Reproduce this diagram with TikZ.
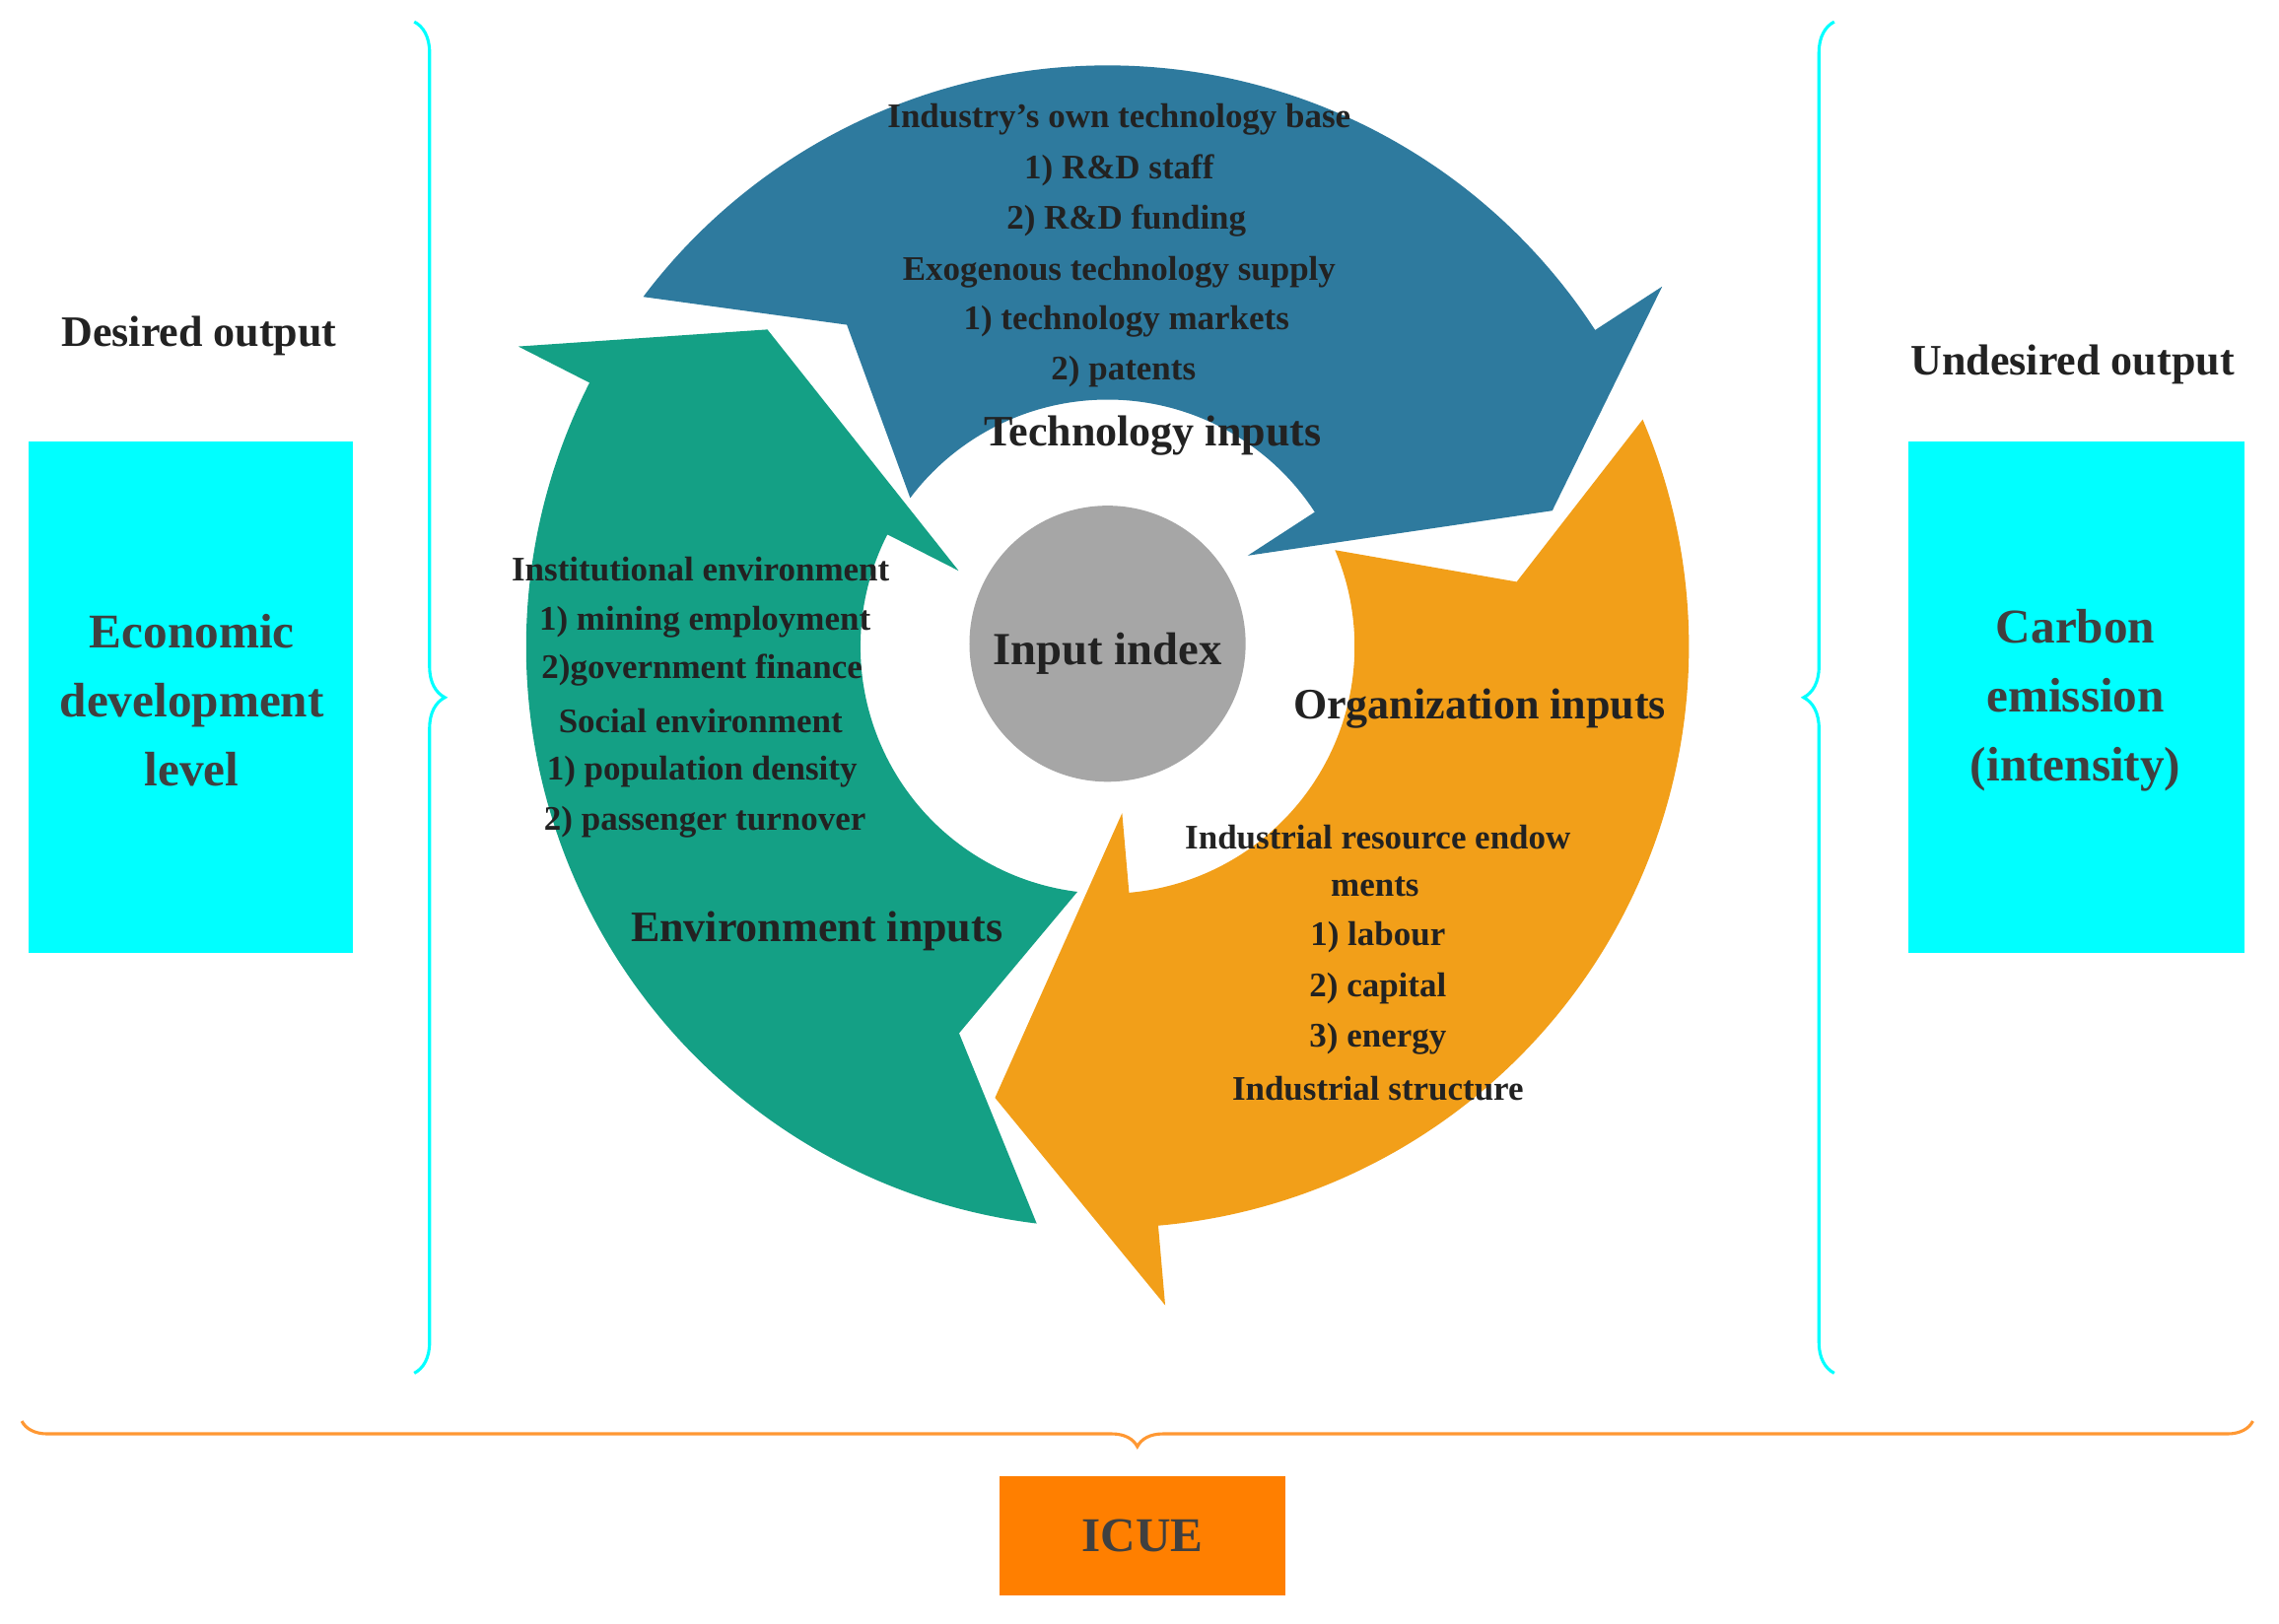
\documentclass[tikz,border=0pt]{standalone}
\usepackage{fontspec}
\setmainfont{Liberation Serif}
\usetikzlibrary{decorations.pathreplacing}
\definecolor{cblue}{HTML}{2E7A9E}
\definecolor{cgreen}{HTML}{14A085}
\definecolor{corange}{HTML}{F29F19}
\definecolor{ccyan}{HTML}{00FFFF}
\definecolor{cbox}{HTML}{FF7F00}
\definecolor{txt}{HTML}{222222}
\begin{document}
\begin{tikzpicture}[x=0.02cm,y=-0.02cm,
  small/.style={font=\fontsize{13.5}{16}\selectfont\bfseries, text=txt, align=center},
  big/.style={font=\fontsize{17}{20}\selectfont\bfseries, text=txt},
  boxtxt/.style={font=\fontsize{19}{27}\selectfont\bfseries, text=black!75, align=center},
  brc/.style={decorate, decoration={brace, amplitude=12pt}, line width=1.2pt}]
\useasboundingbox (0,0) rectangle (1568,1117);
\fill[white] (0,0) rectangle (1568,1117);
\def\rin{170}\def\rout{400}\def\rwi{115}\def\rwo{455}\def\rtip{320}\def\rmid{285}
\newcommand{\ringarrow}[4]{%
  \fill[#4] (#1:\rout) arc[start angle=#1, end angle=#2, radius=\rout]
   -- (#2:\rwo) -- (#3:\rtip) -- (#2:\rwi) -- (#2:\rin)
   arc[start angle=#2, end angle=#1, radius=\rin] -- ({#1-14}:\rmid) -- cycle;}
\begin{scope}[shift={(762,445)}, yscale=-1]
  \ringarrow{143}{33}{17}{cblue}
  \ringarrow{23}{-85}{-104}{corange}
  \ringarrow{263}{153}{137}{cgreen}
\end{scope}
\node[circle, fill=black!35, minimum size=190*0.02cm, inner sep=0pt] (core) at (762,443) {};
\node[font=\fontsize{18}{20}\selectfont\bfseries, text=txt] (ii) at (762,450) {Input index};
% blue text
\node[small] (t1) at (770,82) {Industry's own technology base};
\node[small] (t2) at (770,117) {1) R\&D staff};
\node[small] (t3) at (775,152) {2) R\&D funding};
\node[small] (t4) at (770,187) {Exogenous technology supply};
\node[small] (t5) at (775,221) {1) technology markets};
\node[small] (t6) at (773,256) {2) patents};
\node[big] (tech) at (793,300) {Technology inputs};
% green text
\node[small] (g1) at (482,392) {Institutional environment};
\node[small] (g2) at (485,428) {1) mining employment};
\node[small] (g3) at (483,461) {2)government finance};
\node[small] (g4) at (482,496) {Social environment};
\node[small] (g5) at (483,531) {1) population density};
\node[small] (g6) at (485,566) {2) passenger turnover};
\node[big] (env) at (562,641) {Environment inputs};
% orange text
\node[big] (org) at (1018,488) {Organization inputs};
\node[small] (o1) at (948,576) {Industrial resource endow};
\node[small] (o2) at (946,610) {ments};
\node[small] (o3) at (948,645) {1) labour};
\node[small] (o4) at (948,680) {2) capital};
\node[small] (o5) at (948,715) {3) energy};
\node[small] (o6) at (948,749) {Industrial structure};
% side
\node[big] (des) at (137,231) {Desired output};
\node[big] (und) at (1426,251) {Undesired output};
\node[fill=ccyan, minimum width=223*0.02cm, minimum height=352*0.02cm, inner sep=0pt] (lb) at (131.5,480) {};
\node[boxtxt] (lbt) at (132,482) {Economic\\development\\level};
\node[fill=ccyan, minimum width=231*0.02cm, minimum height=352*0.02cm, inner sep=0pt] (rb) at (1428.5,480) {};
\node[boxtxt] (rbt) at (1428,482) {Carbon\\emission\\(intensity)};
% braces
\coordinate (lbT) at (285,15); \coordinate (lbB) at (285,945);
\coordinate (rbT) at (1262,15); \coordinate (rbB) at (1262,945);
\coordinate (bbL) at (15,978); \coordinate (bbR) at (1550,978);
\draw[brc, ccyan] (lbT) -- (lbB);
\draw[brc, ccyan] (rbB) -- (rbT);
\draw[brc, cbox!80, decoration={brace, amplitude=10pt}] (bbR) -- (bbL);
\node[fill=cbox, minimum width=197*0.02cm, minimum height=82*0.02cm, inner sep=0pt, font=\fontsize{19}{22}\selectfont\bfseries, text=black!75] (icue) at (786,1057) {ICUE};
\end{tikzpicture}
\end{document}
